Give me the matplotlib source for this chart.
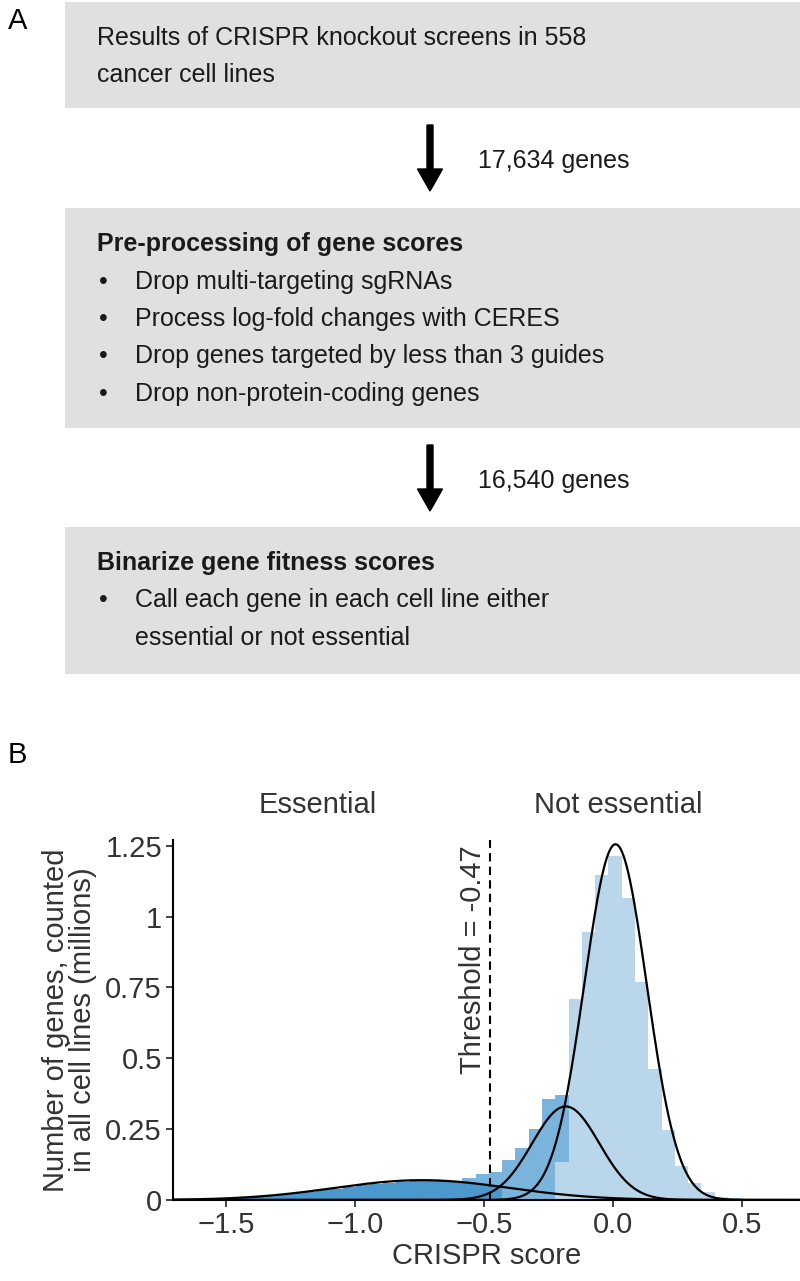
import numpy as np
import matplotlib

matplotlib.use("Agg")
import matplotlib.pyplot as plt
from matplotlib.patches import Rectangle, FancyArrow

plt.rcParams["font.family"] = ["Liberation Sans", "DejaVu Sans"]

# ---- panel A: flow chart text ----
box_titles = [None, "Pre-processing of gene scores", "Binarize gene fitness scores"]
box_lines = [
    ["Results of CRISPR knockout screens in 558", "cancer cell lines"],
    ["Drop multi-targeting sgRNAs",
     "Process log-fold changes with CERES",
     "Drop genes targeted by less than 3 guides",
     "Drop non-protein-coding genes"],
    ["Call each gene in each cell line either", "essential or not essential"],
]
box_bullets = [False, True, True]
arrow_labels = ["17,634 genes", "16,540 genes"]

# ---- panel B: histogram of CRISPR scores (millions of gene/cell-line pairs) ----
bin_start = -1.717
bin_width = 0.0515
hist_dark = [0.001, 0.002, 0.003, 0.004, 0.006, 0.008, 0.011, 0.014, 0.018, 0.023,
             0.028, 0.034, 0.040, 0.046, 0.052, 0.057, 0.061, 0.064, 0.066, 0.067,
             0.067, 0.066, 0.063, 0.058, 0.052, 0, 0, 0, 0, 0,
             0, 0, 0, 0, 0, 0, 0, 0, 0, 0,
             0, 0, 0, 0, 0, 0, 0, 0]
hist_light = [0, 0, 0, 0, 0, 0, 0, 0, 0, 0,
              0, 0, 0, 0, 0, 0, 0, 0, 0, 0,
              0, 0, 0, 0, 0, 0, 0, 0, 0, 0.135,
              0.710, 0.944, 1.148, 1.212, 1.065, 0.769, 0.461, 0.247, 0.120, 0.059,
              0.027, 0.012, 0.006, 0.004, 0.003, 0.002, 0.001, 0.001]
hist_medium = [0, 0, 0, 0, 0, 0, 0, 0, 0, 0,
               0, 0, 0, 0, 0, 0, 0, 0, 0, 0,
               0, 0, 0.016, 0.033, 0.048, 0.140, 0.183, 0.252, 0.357, 0.237,
               0, 0, 0, 0, 0, 0, 0, 0, 0, 0,
               0, 0, 0, 0, 0, 0, 0, 0]

# fitted mixture components: mean, sd, peak height
comp_mean = [-0.74, -0.183, 0.01]
comp_sd = [0.34, 0.13, 0.121]
comp_peak = [0.070, 0.330, 1.255]
threshold = -0.475

fig = plt.figure(figsize=(8, 12.81), dpi=100)

# panel A drawn in pixel coordinates
ax0 = fig.add_axes([0, 0, 1, 1])
ax0.set_xlim(0, 800)
ax0.set_ylim(1281, 0)
ax0.axis("off")

box_top = [2, 208, 527]
box_bottom = [108, 428, 674]
line_h = 37.5
gray = "#e0e0e0"
fs_a = 18
txt = "#1a1a1a"
for i in range(3):
    ax0.add_patch(Rectangle((65, box_top[i]), 735, box_bottom[i] - box_top[i],
                            facecolor=gray, edgecolor="none"))
    y = box_top[i] + 36
    if box_titles[i]:
        ax0.text(97, y, box_titles[i], fontsize=fs_a, fontweight="bold",
                 va="center", ha="left", color=txt)
        y += line_h
    for j, line in enumerate(box_lines[i]):
        if box_bullets[i] and (j == 0 or i == 1):
            ax0.text(99, y, "\u2022", fontsize=fs_a, va="center", ha="left", color=txt)
        x = 135 if box_bullets[i] else 97
        ax0.text(x, y, line, fontsize=fs_a, va="center", ha="left", color=txt)
        y += line_h

arrow_top = [125, 445]
for i in range(2):
    ax0.add_patch(FancyArrow(430, arrow_top[i], 0, 66, width=6, head_width=25,
                             head_length=22, length_includes_head=True,
                             color="black"))
    ax0.text(478, arrow_top[i] + 36, arrow_labels[i], fontsize=fs_a,
             va="center", ha="left", color=txt)

ax0.text(8, 21, "A", fontsize=21, va="center", ha="left")
ax0.text(8, 755, "B", fontsize=21, va="center", ha="left")

# panel B
fs_b = 21
gtxt = "#333333"
ax = fig.add_axes([173 / 800, 81 / 1281, 627 / 800, 360 / 1281])
n_bins = len(hist_dark)
lefts = bin_start + bin_width * np.arange(n_bins)
dark = np.array(hist_dark)
light = np.array(hist_light)
medium = np.array(hist_medium)
ax.bar(lefts, dark, width=bin_width, align="edge", color="#4b98cd", linewidth=0)
ax.bar(lefts, light, width=bin_width, bottom=dark, align="edge", color="#b9d6eb", linewidth=0)
ax.bar(lefts, medium, width=bin_width, bottom=dark + light, align="edge",
       color="#7ab4dd", linewidth=0)

xs = np.linspace(-1.72, 0.74, 800)
for mu, sd, pk in zip(comp_mean, comp_sd, comp_peak):
    ax.plot(xs, pk * np.exp(-0.5 * ((xs - mu) / sd) ** 2), color="black", lw=1.6)

ax.axvline(threshold, color="black", lw=1.5, ls=(0, (4, 2.5)))
ax.text(threshold - 0.012, 1.25, "Threshold = -0.47", rotation=90, fontsize=fs_b,
        ha="right", va="top", color=gtxt)

ax.set_xlim(-1.705, 0.725)
ax.set_ylim(0, 1.27)
ax.set_xticks([-1.5, -1.0, -0.5, 0.0, 0.5])
ax.set_xticklabels(["\u22121.5", "\u22121.0", "\u22120.5", "0.0", "0.5"])
ax.set_yticks([0, 0.25, 0.5, 0.75, 1, 1.25])
ax.set_yticklabels(["0", "0.25", "0.5", "0.75", "1", "1.25"])
for s in ["top", "right"]:
    ax.spines[s].set_visible(False)
for s in ["left", "bottom"]:
    ax.spines[s].set_linewidth(1.5)
ax.tick_params(labelsize=fs_b, length=5, width=1.2, colors="#222222",
               labelcolor=gtxt, pad=3)
ax.set_xlabel("CRISPR score", fontsize=fs_b, color=gtxt, labelpad=2)
ax.set_ylabel("Number of genes, counted\nin all cell lines (millions)", fontsize=fs_b,
              color=gtxt, labelpad=6, linespacing=0.95)

ax0.text(318, 805, "Essential", fontsize=fs_b, ha="center", va="center", color=gtxt)
ax0.text(618, 805, "Not essential", fontsize=fs_b, ha="center", va="center", color=gtxt)

fig.savefig("out.png", dpi=100)
